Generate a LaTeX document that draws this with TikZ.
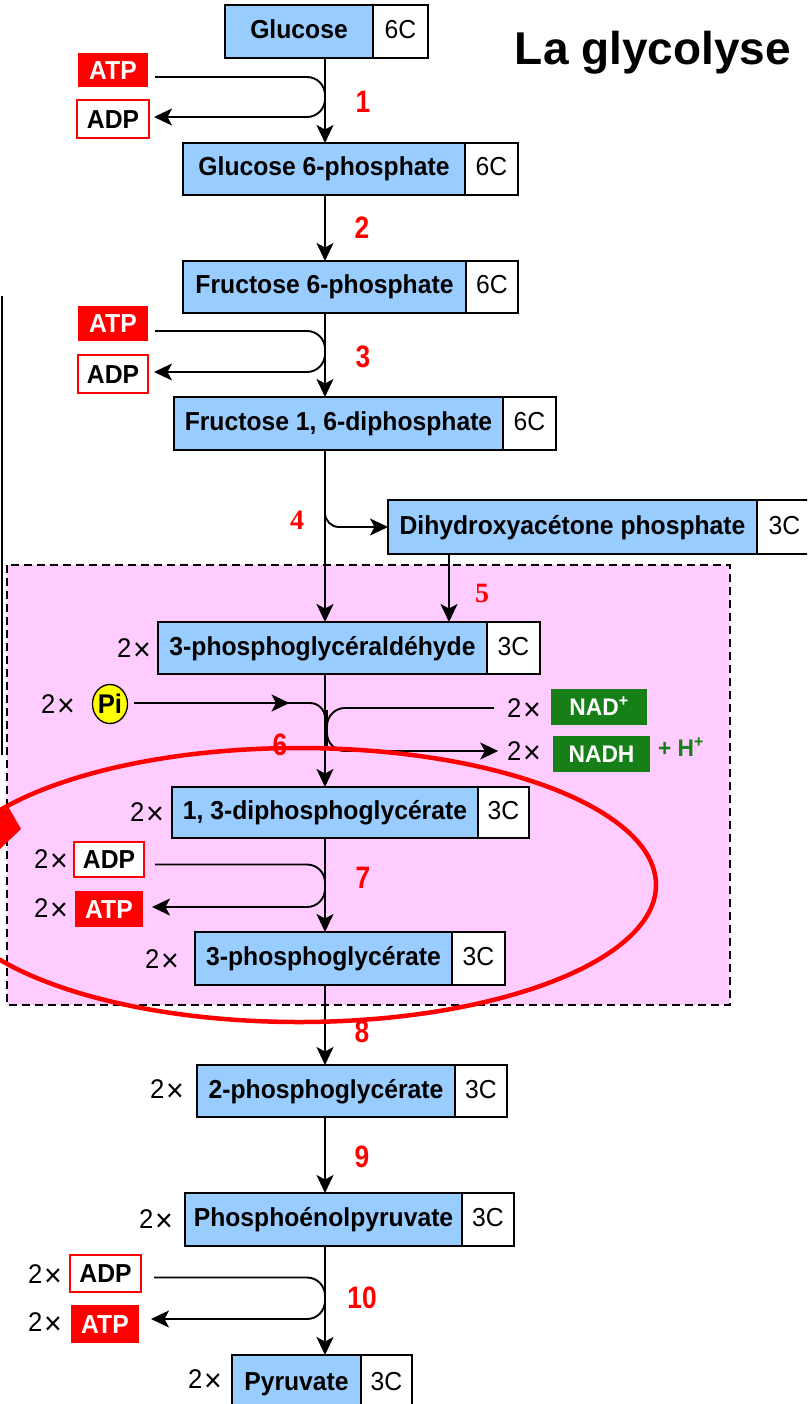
\documentclass[tikz,border=0pt]{standalone}
\usepackage{fontspec}
\setmainfont{Liberation Sans}
\newfontfamily\nfont[FakeStretch=0.95]{Liberation Sans}
\newfontfamily\numfont[FakeStretch=0.85]{Liberation Sans}
\newfontfamily\sernum{Liberation Serif}
\usetikzlibrary{arrows.meta,calc,shapes.geometric}
\definecolor{boxblue}{HTML}{99CCFF}
\definecolor{pinkbg}{HTML}{FFCCFF}
\definecolor{atpred}{HTML}{FF0000}
\definecolor{nadgreen}{HTML}{177F17}
\definecolor{piyellow}{HTML}{FFFF00}
\newcommand{\molnode}[8]{%
  \node[mol, minimum width={(#3)-(#2)}, minimum height={(#6)-(#5)}] (#1) at (#2,#5) {#7};
  \node[carb, minimum width={(#4)-(#3)}, minimum height={(#6)-(#5)}] (#1c) at (#3,#5) {#8};
}
\newcommand{\twox}{2\kern1.5pt\raisebox{-2.5pt}{\fontsize{32}{32}\selectfont×}}
\begin{document}
\begin{tikzpicture}[x=1pt,y=-1pt,
  every node/.style={inner sep=0pt, outer sep=0pt},
  mol/.style={draw=black, line width=1.7pt, fill=boxblue, anchor=north west,
    font=\nfont\bfseries\fontsize{26}{26}\selectfont, text height=19pt, text depth=5pt},
  carb/.style={draw=black, line width=1.7pt, fill=white, anchor=north west,
    font=\nfont\fontsize{26}{26}\selectfont, text height=19pt, text depth=5pt},
  atpbox/.style={fill=atpred, text=white, anchor=north west,
    font=\nfont\bfseries\fontsize{26}{26}\selectfont, text height=18.5pt, text depth=0pt},
  adpbox/.style={draw=atpred, line width=1.4pt, fill=white, anchor=north west,
    font=\nfont\bfseries\fontsize{26}{26}\selectfont, text height=18.5pt, text depth=0pt},
  nadbox/.style={fill=nadgreen, text=white, anchor=north west,
    font=\nfont\bfseries\fontsize{24}{24}\selectfont, text height=17pt, text depth=0pt},
  times/.style={font=\nfont\fontsize{27}{27}\selectfont, text height=19pt, text depth=0pt},
  stepnum/.style={text=atpred, font=\numfont\bfseries\fontsize{31}{31}\selectfont},
  stepser/.style={text=atpred, font=\sernum\bfseries\fontsize{28}{28}\selectfont},
  flow/.style={draw=black, line width=1.9pt},
  arr/.style={flow, -{Stealth[length=18pt,width=17pt,inset=4.5pt]}},
]
\clip (0,0) rectangle (807,1404);
\fill[white] (0,0) rectangle (807,1404);
\coordinate (trunk) at (325,0);
\coordinate (c5) at (449,0);

% pink region
\draw[fill=pinkbg, line width=1.5pt, dash pattern=on 8pt off 5pt] (7,565) rectangle (730,1005);
% left black line
\draw[line width=2pt] (1.5,296) -- (1.5,755);

% title
\node[anchor=base, font=\bfseries\fontsize{46}{46}\selectfont] (title) at (653,65) {La glycolyse};

% molecules
\molnode{glc}{225}{373}{428}{5}{58}{Glucose}{6C}
\molnode{gsp}{183}{465}{518}{143}{195}{Glucose 6-phosphate}{6C}
\molnode{fsp}{183}{466}{518}{261}{313}{Fructose 6-phosphate}{6C}
\molnode{fbp}{174}{503}{556}{397}{450}{Fructose 1, 6-diphosphate}{6C}
\molnode{dhap}{388}{757}{812}{500}{554}{Dihydroxyacétone phosphate}{3C}
\molnode{gap}{158}{487}{540}{622}{674}{3-phosphoglycéraldéhyde}{3C}
\molnode{bpg}{172}{478}{529}{787}{838}{1, 3-diphosphoglycérate}{3C}
\molnode{pgc}{195}{452}{505}{932}{985}{3-phosphoglycérate}{3C}
\molnode{pgb}{197}{455}{507}{1065}{1117}{2-phosphoglycérate}{3C}
\molnode{pep}{185}{462}{514}{1193}{1246}{Phosphoénolpyruvate}{3C}
\molnode{pyr}{232}{361}{412}{1355}{1412}{Pyruvate}{3C}

% 2x labels
\node[times] (gapx) at (134,648) {\twox};
\node[times] (bpgx) at (147,812) {\twox};
\node[times] (pgcx) at (162,959) {\twox};
\node[times] (pgbx) at (167,1089) {\twox};
\node[times] (pepx) at (156,1219) {\twox};
\node[times] (pyrx) at (205,1379) {\twox};

% step 1
\node[atpbox, minimum width=70pt, minimum height=34pt] (atpa) at (78,53) {ATP};
\node[adpbox, minimum width=72pt, minimum height=38pt] (adpa) at (77,100) {ADP};
\draw[arr, rounded corners=18pt] ($(atpa.east)+(7,7)$) -| ($(trunk |- atpa.east)+(0,27)$) |- ($(adpa.east)+(5,-2)$);
% step 3
\node[atpbox, minimum width=70pt, minimum height=35pt] (atpb) at (78,306) {ATP};
\node[adpbox, minimum width=70pt, minimum height=38pt] (adpb) at (78,355) {ADP};
\draw[arr, rounded corners=18pt] ($(atpb.east)+(7,7.5)$) -| ($(trunk |- atpb.east)+(0,28)$) |- ($(adpb.east)+(6,-2)$);

% main trunk arrows
\draw[arr] (glc.south -| trunk) -- (gsp.north -| trunk);
\draw[arr] (gsp.south -| trunk) -- (fsp.north -| trunk);
\draw[arr] (fsp.south -| trunk) -- (fbp.north -| trunk);
\draw[arr] (fbp.south -| trunk) -- (gap.north -| trunk);
\draw[arr, rounded corners=14pt] ($(fbp.south -| trunk)+(0,50)$) |- (dhap.west);
\draw[arr] (dhap.south -| c5) -- (gap.north -| c5);
\draw[arr] (gap.south -| trunk) -- (bpg.north -| trunk);
\draw[arr] (bpg.south -| trunk) -- (pgc.north -| trunk);
\draw[arr] (pgc.south -| trunk) -- (pgb.north -| trunk);
\draw[arr] (pgb.south -| trunk) -- (pep.north -| trunk);
\draw[arr] (pep.south -| trunk) -- (pyr.north -| trunk);

% step 6
\node[times] (pix) at (58,704) {\twox};
\node[draw=black, line width=1.3pt, fill=piyellow, ellipse, minimum width=35pt, minimum height=39pt,
  font=\nfont\bfseries\fontsize{27}{27}\selectfont, text height=19pt, text depth=0pt] (pi) at (110,704) {Pi};
\draw[flow, rounded corners=15pt] ($(pi.east)+(150,-1)$) -| ($(trunk |- pi.east)+(0,40)$);
\draw[arr] ($(pi.east)+(6,-1)$) -- ($(pi.east)+(162,-1)$);
\node[times] (nadx) at (524,708) {\twox};
\node[times] (nadhx) at (524,751) {\twox};
\node[nadbox, minimum width=96pt, minimum height=36pt] (nad) at (551,689) {NAD\textsuperscript{+}};
\node[nadbox, minimum width=97pt, minimum height=36pt] (nadh) at (553,736) {NADH};
\node[text=nadgreen, font=\nfont\bfseries\fontsize{24}{24}\selectfont] (hplus) at (681,747) {+ H\textsuperscript{+}};
\draw[arr, rounded corners=18pt] ($(nadx.west)+(-13,0)$) -| ($(trunk |- nadx.west)+(2,20)$) |- ($(nadhx.west)+(-9,0)$);

% step 7
\node[times] (adpcx) at (51,859) {\twox};
\node[times] (atpcx) at (51,908) {\twox};
\node[adpbox, minimum width=70pt, minimum height=35pt] (adpc) at (74,842) {ADP};
\node[atpbox, minimum width=68pt, minimum height=36pt] (atpc) at (75,891) {ATP};
\draw[arr, rounded corners=18pt] ($(adpc.east)+(11,5)$) -| ($(trunk |- adpc.east)+(0,25)$) |- ($(atpc.east)+(9,-2)$);

% step 10
\node[times] (adpdx) at (45,1274) {\twox};
\node[times] (atpdx) at (45,1322) {\twox};
\node[adpbox, minimum width=71pt, minimum height=37pt] (adpd) at (70,1255) {ADP};
\node[atpbox, minimum width=68pt, minimum height=38pt] (atpd) at (71,1305) {ATP};
\draw[arr, rounded corners=18pt] ($(adpd.east)+(13,4)$) -| ($(trunk |- adpd.east)+(0,22)$) |- ($(atpd.east)+(12,-5)$);

% step numbers
\node[stepnum] (s1) at (363,102) {1};
\node[stepnum] (s2) at (362,228) {2};
\node[stepnum] (s3) at (363,357) {3};
\node[stepser] (s4) at (297,520) {4};
\node[stepser] (s5) at (482,593) {5};
\node[stepnum] (s6) at (280,745) {6};
\node[stepnum] (s7) at (363,878) {7};
\node[stepnum] (s8) at (362,1032) {8};
\node[stepnum] (s9) at (362,1157) {9};
\node[stepnum] (s10) at (362,1298) {10};

% red ellipse and arrow tip
\draw[atpred, line width=4.5pt] (299,885) ellipse [x radius=357, y radius=137];
\fill[atpred] (0,812) -- (9,808) -- (21,829) -- (0,849) -- cycle;
\end{tikzpicture}
\end{document}
